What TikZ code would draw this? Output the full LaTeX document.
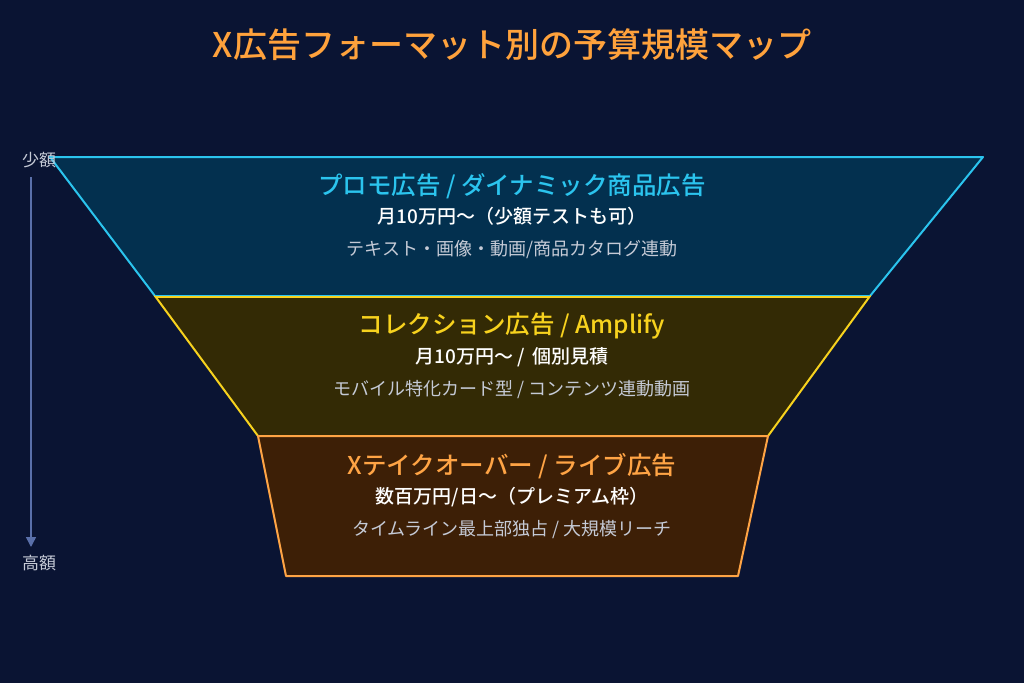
\documentclass[tikz,border=0pt]{standalone}
\usepackage{fontspec}
\setmainfont{Noto Sans CJK JP}[BoldFont={Noto Sans CJK JP Medium}]
\usetikzlibrary{arrows.meta}
\definecolor{bgnavy}{HTML}{0A1433}
\definecolor{titleorange}{HTML}{FFA23C}
\definecolor{promoline}{HTML}{2BC4EE}
\definecolor{promofill}{HTML}{03304F}
\definecolor{collline}{HTML}{F7D21E}
\definecolor{collfill}{HTML}{332A05}
\definecolor{takeline}{HTML}{FFA445}
\definecolor{takefill}{HTML}{3D1F06}
\definecolor{axisblue}{HTML}{5A70AA}
\definecolor{notegray}{HTML}{C5CAD6}
\newcommand{\TierHead}[1]{{\fontsize{24.5}{28}\selectfont\bfseries #1}}
\newcommand{\TierCost}[1]{{\fontsize{19}{22}\selectfont\bfseries #1}}
\newcommand{\TierNote}[1]{{\fontsize{18}{21}\selectfont #1}}

\begin{document}
\begin{tikzpicture}[x=1pt, y=-1pt,
    tier/.style={line width=2pt, line join=round},
    lbl/.style={inner sep=0pt, anchor=center}]

    \fill[bgnavy] (0,0) rectangle (1024,683);
    \useasboundingbox (0,0) rectangle (1024,683);

    \draw(512,45) node[lbl, text=titleorange] (title) {{\fontsize{34}{38}\selectfont\bfseries X広告フォーマット別の予算規模マップ}};

    % funnel tiers
    \filldraw[tier, draw=promoline, fill=promofill] (50,157) -- (983,157) -- (870,296) -- (155,296) -- cycle;
    \filldraw[tier, draw=collline, fill=collfill] (155,296) -- (870,296) -- (768,436) -- (258,436) -- cycle;
    \filldraw[tier, draw=takeline, fill=takefill] (258,436) -- (768,436) -- (738,576) -- (286,576) -- cycle;
    \draw[line width=2pt, promoline] (155,296) -- (870,296);
    \draw[line width=2pt, collline] (155,296.5) -- (870,296.5);

    \draw(512,186) node[lbl, text=promoline] (promo) {\TierHead{プロモ広告 / ダイナミック商品広告}};
    \draw(512,216) node[lbl, text=white] (promocost) {\TierCost{月10万円〜（少額テストも可）}};
    \draw(512,250) node[lbl, text=notegray] (promonote) {\TierNote{テキスト・画像・動画/商品カタログ連動}};

    \draw(512,326) node[lbl, text=collline] (coll) {\TierHead{コレクション広告 / Amplify}};
    \draw(512,357) node[lbl, text=white] (collcost) {\TierCost{月10万円〜 /\hspace{3pt} 個別見積}};
    \draw(512,390) node[lbl, text=notegray] (collnote) {\TierNote{モバイル特化カード型 / コンテンツ連動動画}};

    \draw(512,466) node[lbl, text=takeline] (take) {\TierHead{Xテイクオーバー / ライブ広告}};
    \draw(512,497) node[lbl, text=white] (takecost) {\TierCost{数百万円/日〜（プレミアム枠）}};
    \draw(512,530) node[lbl, text=notegray] (takenote) {\TierNote{タイムライン最上部独占 / 大規模リーチ}};

    % budget axis
    \draw(39,160) node[lbl, text=notegray] (lo) {\TierNote{\fontsize{17}{20}\selectfont 少額}};
    \draw(39,563) node[lbl, text=notegray] (hi) {\TierNote{\fontsize{17}{20}\selectfont 高額}};
    \coordinate (axtop) at (31,177);
    \coordinate (axbot) at (31,547);
    \draw[-{Triangle[length=10pt, width=10pt]}, line width=1.5pt, axisblue] (axtop) -- (axbot);

\end{tikzpicture}
\end{document}
